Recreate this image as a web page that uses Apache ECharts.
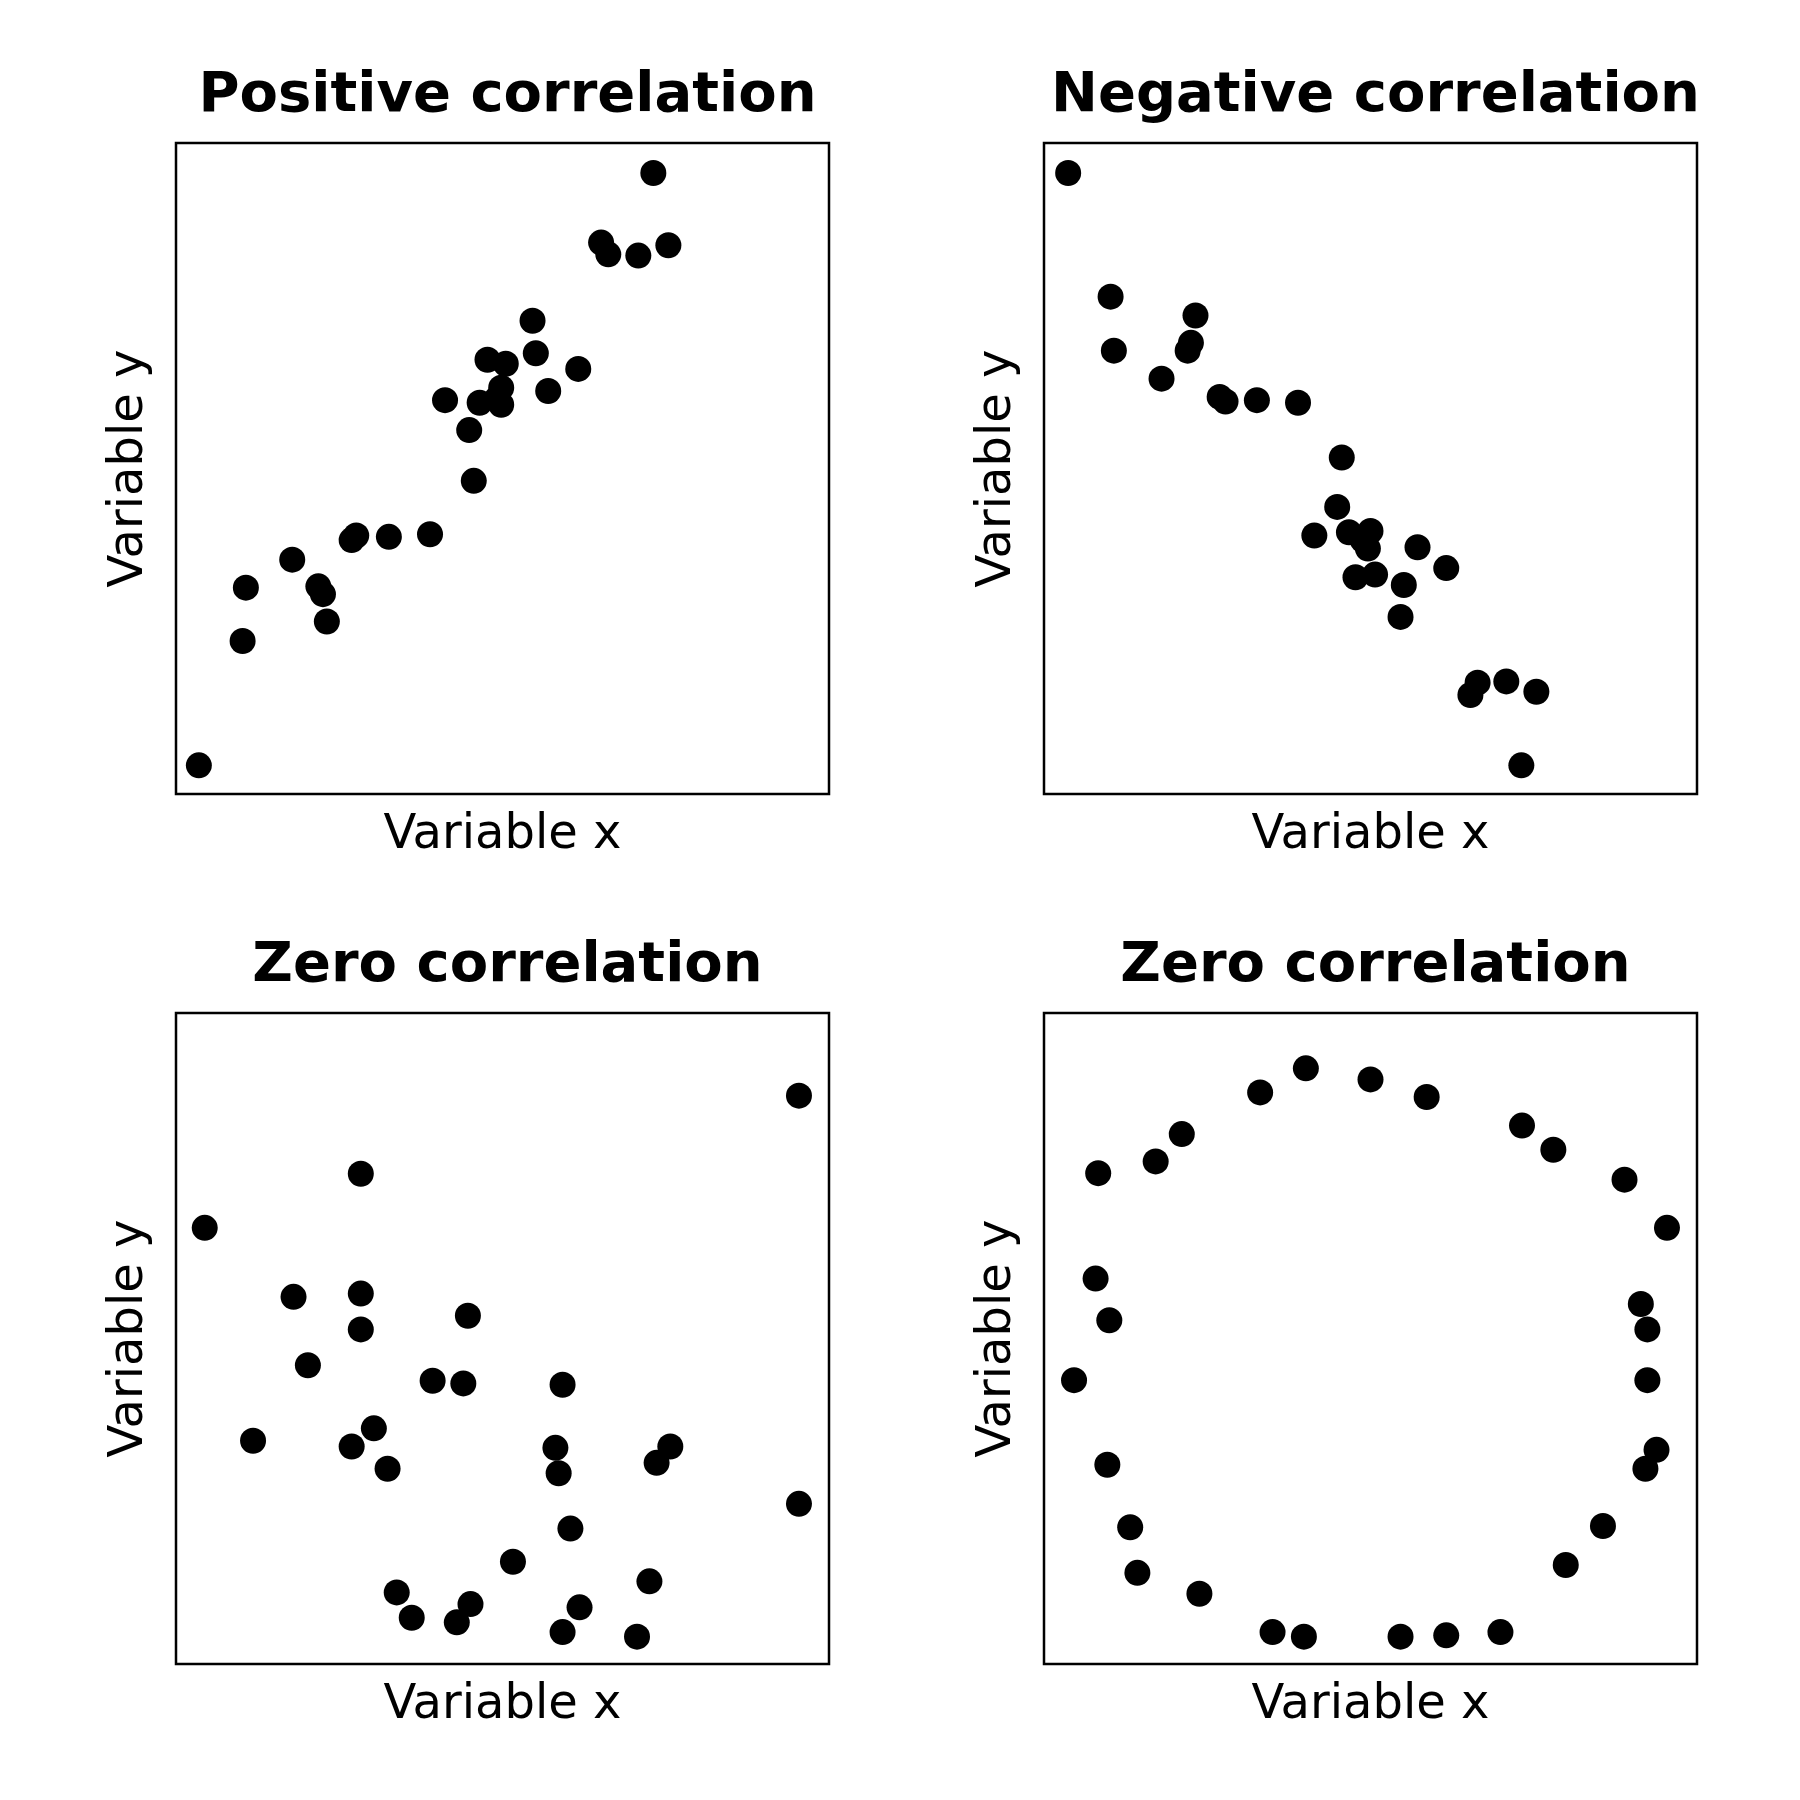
<!DOCTYPE html>
<html>
<head>
<meta charset="utf-8">
<script src="https://cdn.jsdelivr.net/npm/echarts@6/dist/echarts.min.js"></script>
<style>html,body{margin:0;padding:0;background:#fff}#chart{width:1800px;height:1800px}</style>
</head>
<body>
<div id="chart"></div>
<script>
const titles = ['Positive correlation', 'Negative correlation', 'Zero correlation', 'Zero correlation'];

const positive = [[3.5,4.4],[10.2,23.5],[10.7,31.7],[17.8,36.0],[21.8,31.9],[22.5,30.7],[23.1,26.5],[26.9,39.0],[27.6,39.7],[32.6,39.5],[38.9,39.9],[41.2,60.5],[44.9,55.9],[45.6,48.1],[46.5,60.1],[47.7,66.7],[49.1,60.7],[49.8,62.4],[49.8,59.8],[50.5,66.1],[54.6,72.7],[55.1,67.7],[57.0,61.9],[61.6,65.3],[65.1,84.7],[66.2,82.9],[70.8,82.7],[73.1,95.4],[75.4,84.3]];

const negative = [[3.7,95.4],[10.2,76.4],[10.7,68.1],[18.0,63.8],[22.0,68.1],[22.5,69.3],[23.2,73.5],[26.9,61.0],[27.8,60.3],[32.6,60.5],[38.9,60.1],[41.4,39.7],[44.9,44.1],[45.6,51.7],[46.7,40.2],[47.7,33.3],[48.8,39.0],[49.6,37.7],[50.0,40.4],[50.7,33.7],[54.6,27.2],[55.1,32.1],[57.2,37.9],[61.6,34.7],[65.3,15.2],[66.4,17.1],[70.8,17.3],[73.1,4.4],[75.4,15.7]];

const zeroScatter = [[4.4,67.0],[11.8,34.3],[18.0,56.4],[20.2,45.9],[26.9,33.4],[28.3,75.3],[28.3,56.9],[28.3,51.4],[30.3,36.2],[32.4,30.0],[33.8,11.0],[36.1,7.1],[39.3,43.5],[43.0,6.4],[44.0,43.1],[44.7,53.5],[45.1,9.2],[51.6,15.7],[58.1,33.2],[58.6,29.3],[59.2,42.9],[59.2,4.9],[60.4,20.8],[61.8,8.7],[70.6,4.2],[72.5,12.7],[73.6,30.9],[75.7,33.4],[95.4,87.3],[95.4,24.6]];

const zeroRing = [[4.6,43.6],[7.9,59.2],[8.3,75.4],[9.7,30.6],[10.0,52.8],[13.2,21.0],[14.3,14.0],[17.1,77.2],[21.1,81.4],[23.8,10.8],[33.1,87.8],[35.0,4.9],[39.8,4.2],[40.1,91.5],[50.0,89.8],[54.6,4.2],[58.6,87.1],[61.6,4.4],[69.9,4.9],[73.2,82.7],[78.0,79.0],[79.9,15.2],[85.6,21.2],[88.9,74.4],[91.4,55.3],[92.1,30.0],[92.4,51.4],[92.4,43.6],[93.8,32.9],[95.4,67.0]];

const datasets = [positive, negative, zeroScatter, zeroRing];
const lefts = [176, 1044, 176, 1044];
const tops = [143, 143, 1013, 1013];
const W = 653, H = 651;
const font = 'DejaVu Sans';

const chart = echarts.init(document.getElementById('chart'));
chart.setOption({
  backgroundColor: '#fff',
  animation: false,
  title: titles.map((t, i) => ({
    text: t, left: lefts[i] + W / 2, top: tops[i] - 80, textAlign: 'center',
    textStyle: { fontFamily: font, fontSize: 56, fontWeight: 'bold', color: '#000' }
  })),
  grid: lefts.map((l, i) => ({ left: l, top: tops[i], width: W, height: H, show: true, borderColor: '#000', borderWidth: 2.5 })),
  xAxis: datasets.map((d, i) => ({
    gridIndex: i, type: 'value', min: 0, max: 100,
    name: 'Variable x', nameLocation: 'middle', nameGap: 18,
    nameTextStyle: { fontFamily: font, fontSize: 48, color: '#000' },
    axisLine: { show: false }, axisTick: { show: false }, axisLabel: { show: false }, splitLine: { show: false }
  })),
  yAxis: datasets.map((d, i) => ({
    gridIndex: i, type: 'value', min: 0, max: 100,
    name: 'Variable y', nameLocation: 'middle', nameGap: 22,
    nameTextStyle: { fontFamily: font, fontSize: 48, color: '#000' },
    axisLine: { show: false }, axisTick: { show: false }, axisLabel: { show: false }, splitLine: { show: false }
  })),
  series: datasets.map((d, i) => ({
    type: 'scatter', xAxisIndex: i, yAxisIndex: i, data: d,
    symbolSize: 26, itemStyle: { color: '#000', opacity: 1 }
  }))
});
</script>
</body>
</html>
